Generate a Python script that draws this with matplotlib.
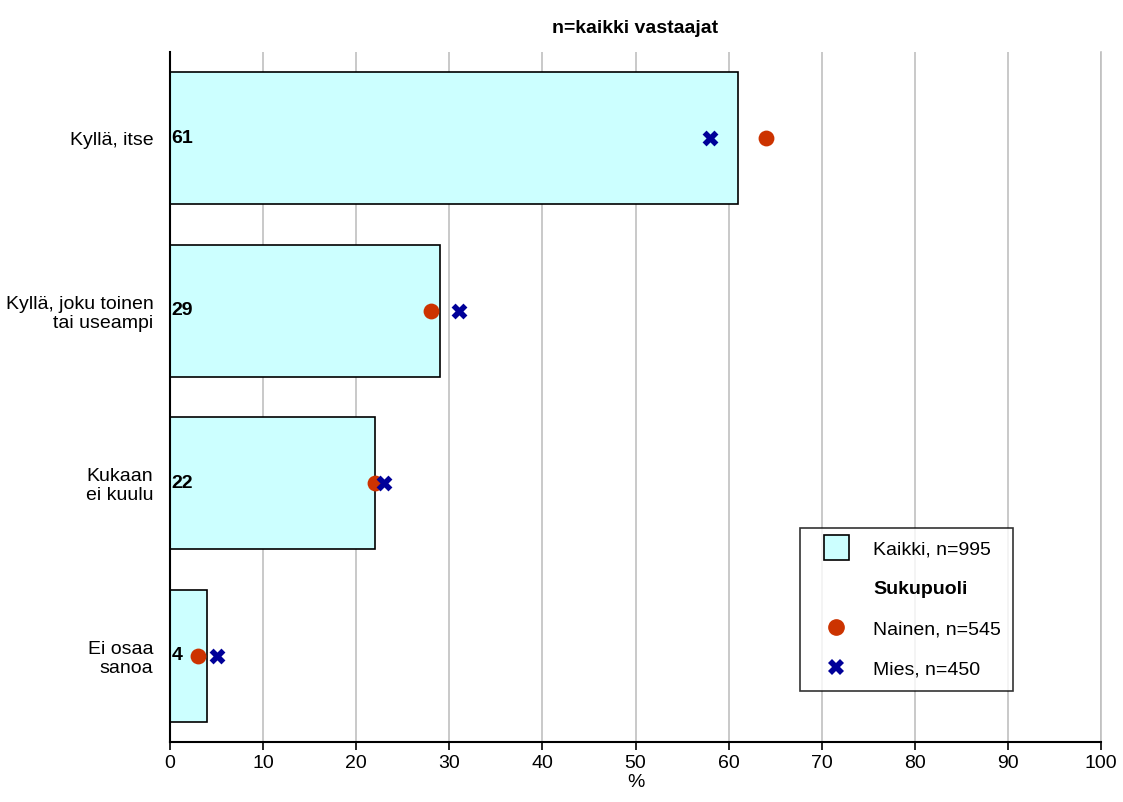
import matplotlib.pyplot as plt
from matplotlib.lines import Line2D

categories = ["Kyllä, itse", "Kyllä, joku toinen\ntai useampi", "Kukaan\nei kuulu", "Ei osaa\nsanoa"]
kaikki = [61, 29, 22, 4]
nainen = [64, 28, 22, 3]
mies = [58, 31, 23, 5]

plt.rcParams['font.family'] = ['Arial', 'Liberation Sans', 'DejaVu Sans']

fig = plt.figure(figsize=(11.23, 8.02), dpi=100)
ax = fig.add_axes([170/1123, 1 - 742/802, (1101-170)/1123, (742-52)/802])

y = list(range(len(categories)))
ax.barh(y, kaikki, height=0.765, color="#CCFFFF", edgecolor="black", linewidth=1.2, zorder=2)
ax.scatter(nainen, y, s=130, color="#CC3300", marker="o", zorder=3, linewidths=0)
ax.scatter(mies, y, s=130, color="#000099", marker="X", zorder=3, linewidths=0)

# value labels inside the bars
for yi, v in zip(y, kaikki):
    ax.text(0.15, yi, str(v), va="center", ha="left", fontsize=14, fontweight="bold", zorder=4)

ax.set_xlim(0, 100)
ax.set_ylim(3.5, -0.5)
ax.set_xticks(range(0, 101, 10))
ax.set_yticks(y)
ax.set_yticklabels(categories, fontsize=14, linespacing=1.15)
ax.tick_params(axis="y", length=0, pad=12)
ax.tick_params(axis="x", labelsize=14, length=6, width=1.2)
ax.xaxis.grid(True, color="#C0C0C0", linewidth=1.2, zorder=0)
ax.axvline(100, color="#C0C0C0", linewidth=1.2, zorder=0, clip_on=False)
ax.set_axisbelow(True)
for s in ["top", "right"]:
    ax.spines[s].set_visible(False)
ax.spines["left"].set_linewidth(1.5)
ax.spines["bottom"].set_linewidth(1.5)
ax.set_xlabel("%", fontsize=14, labelpad=1)
ax.set_title("n=kaikki vastaajat", fontsize=14, fontweight="bold", pad=14)

handles = [
    Line2D([], [], marker="s", markerfacecolor="#CCFFFF", markeredgecolor="black",
           markeredgewidth=1.2, linestyle="none", markersize=18),
    Line2D([], [], linestyle="none"),
    Line2D([], [], marker="o", color="#CC3300", linestyle="none", markersize=11),
    Line2D([], [], marker="X", color="#000099", linestyle="none", markersize=11, markeredgewidth=0),
]
labels = ["Kaikki, n=995", "Sukupuoli", "Nainen, n=545", "Mies, n=450"]
leg = ax.legend(handles, labels, loc="upper left",
                bbox_to_anchor=((800-170)/931, (742-528)/690),
                fontsize=14, frameon=True, fancybox=False, edgecolor="black",
                borderpad=0.65, labelspacing=1.15, handlelength=2.4, handletextpad=0.7,
                borderaxespad=0)
leg.get_frame().set_linewidth(1.2)
leg.get_texts()[1].set_fontweight("bold")

fig.savefig("out.png", dpi=100)
